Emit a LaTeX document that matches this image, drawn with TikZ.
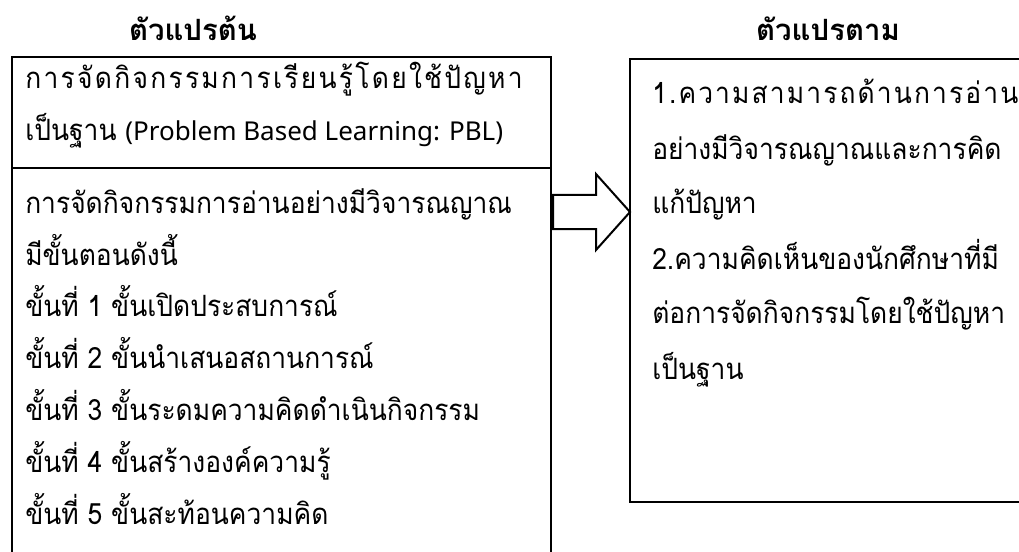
\documentclass[tikz,border=0pt]{standalone}
\usepackage{fontspec}
\newfontfamily\thai[Script=Thai,FakeStretch=0.9]{Loma}
\newfontfamily\thaititle[Script=Thai]{Loma}
\newfontfamily\thaispA[Script=Thai,FakeStretch=0.9,LetterSpace=7.8]{Loma}
\newfontfamily\thaispB[Script=Thai,FakeStretch=0.9,LetterSpace=7.2]{Loma}
\newfontfamily\latin{Noto Sans}
\begin{document}
\begin{tikzpicture}[x=0.75pt,y=-0.75pt,
  txt/.style={anchor=mid west, inner sep=0pt, font=\thai\fontsize{22}{26}\selectfont},
  txtspA/.style={anchor=mid west, inner sep=0pt, font=\thaispA\fontsize{22}{26}\selectfont},
  txtspB/.style={anchor=mid west, inner sep=0pt, font=\thaispB\fontsize{22}{26}\selectfont},
  ttl/.style={anchor=mid, inner sep=0pt, font=\thaititle\bfseries\fontsize{22}{26}\selectfont},
  frame/.style={draw=black, line width=1.5pt},
  blockarrow/.style={draw=black, line width=1.5pt, fill=white, line join=miter}]
\useasboundingbox (0,0) rectangle (1019,552);
\fill[white] (0,0) rectangle (1019,552);

% frames
\coordinate (LTL) at (12,57);
\coordinate (LBR) at (551,575);
\coordinate (RTL) at (630,59);
\coordinate (RBR) at (1035,502);
\draw[frame] (LTL) rectangle (LBR);
\draw[frame] (12,168) -- (551,168);
\draw[frame] (RTL) rectangle (RBR);

% titles
\node[ttl] (t1) at (193,38) {ตัวแปรต้น};
\node[ttl] (t2) at (828,38) {ตัวแปรตาม};

% left texts
\node[txtspA] (a1) at (25,86) {การจัดกิจกรรมการเรียนรู้โดยใช้ปัญหา};
\node[txt] (a2) at (25,138) {เป็นฐาน {\latin\fontsize{19.5}{22}\selectfont (Problem Based Learning: PBL)}};
\node[txt] (b1) at (25,211) {การจัดกิจกรรมการอ่านอย่างมีวิจารณญาณ};
\node[txt] (b2) at (25,263) {มีขั้นตอนดังนี้};
\node[txt] (b3) at (25,314) {ขั้นที่ 1 ขั้นเปิดประสบการณ์};
\node[txt] (b4) at (25,366) {ขั้นที่ 2 ขั้นนำเสนอสถานการณ์};
\node[txt] (b5) at (25,418) {ขั้นที่ 3 ขั้นระดมความคิดดำเนินกิจกรรม};
\node[txt] (b6) at (25,470) {ขั้นที่ 4 ขั้นสร้างองค์ความรู้};
\node[txt] (b7) at (25,522) {ขั้นที่ 5 ขั้นสะท้อนความคิด};

% right texts
\node[txtspB] (c1) at (652,101) {1.ความสามารถด้านการอ่าน};
\node[txt] (c2) at (652,157) {อย่างมีวิจารณญาณและการคิด};
\node[txt] (c3) at (652,211) {แก้ปัญหา};
\node[txt] (c4) at (652,267) {2.ความคิดเห็นของนักศึกษาที่มี};
\node[txt] (c5) at (652,321) {ต่อการจัดกิจกรรมโดยใช้ปัญหา};
\node[txt] (c6) at (652,377) {เป็นฐาน};

% block arrow
\coordinate (tip) at (630,212);
\draw[blockarrow] (553,195) -- (596,195) -- (596,174) -- (tip) -- (596,250) -- (596,229) -- (553,229) -- cycle;
\end{tikzpicture}
\end{document}
